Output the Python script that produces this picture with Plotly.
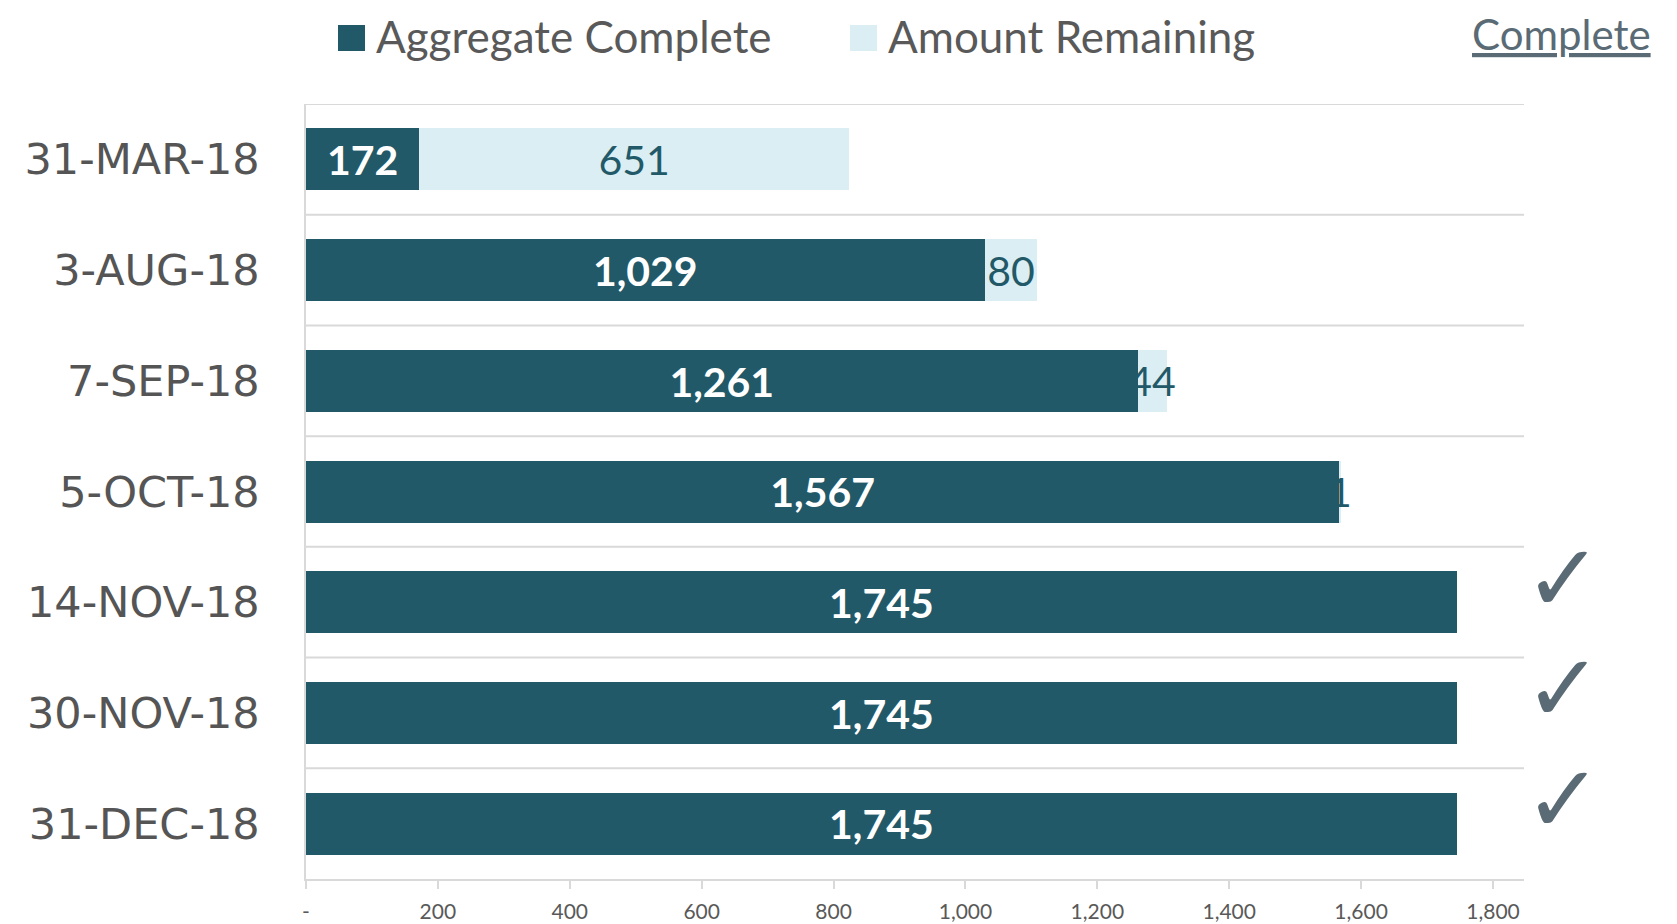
import plotly.graph_objects as go

dates = ["31-MAR-18", "3-AUG-18", "7-SEP-18", "5-OCT-18", "14-NOV-18", "30-NOV-18", "31-DEC-18"]
aggregate_complete = [172, 1029, 1261, 1567, 1745, 1745, 1745]
amount_remaining = [651, 80, 44, 1, 0, 0, 0]
x_ticks = [0, 200, 400, 600, 800, 1000, 1200, 1400, 1600, 1800]
x_tick_labels = ["-", "200", "400", "600", "800", "1,000", "1,200", "1,400", "1,600", "1,800"]

DARK = "#225968"
LIGHT = "#DAEEF3"
FONT = "Lato"

# page is offset by the default 8px body margin
OFF = 8
W, H = 1669, 916
L, T = 306 - OFF, 104 - OFF
R = W - (1524 - OFF)
B = H - (879 - OFF)
PW, PH = W - L - R, H - T - B


def px_x(px):
    return (px - OFF - L) / PW


def px_y(py):
    return (H - B - (py - OFF)) / PH


fig = go.Figure()
fig.add_trace(go.Bar(
    y=dates, x=aggregate_complete, orientation="h", name="Aggregate Complete",
    marker=dict(color=DARK, line=dict(width=0)),
    text=[f"{v:,}" if v else "" for v in aggregate_complete],
    textposition="inside", insidetextanchor="middle",
    textfont=dict(family=FONT, size=43, color="white", weight="bold"),
    width=0.56, showlegend=False,
))
fig.add_trace(go.Bar(
    y=dates, x=amount_remaining, orientation="h", name="Amount Remaining",
    marker=dict(color=LIGHT, line=dict(width=0)),
    text=[f"{v:,}" if v else "" for v in amount_remaining],
    textposition="inside", insidetextanchor="middle",
    textfont=dict(family=FONT, size=41, color=DARK),
    width=0.56, showlegend=False, cliponaxis=False,
))

shapes = []
for i in range(len(dates)):
    shapes.append(dict(type="line", xref="paper", x0=0, x1=1, yref="y",
                       y0=i - 0.5, y1=i - 0.5, line=dict(color="#D9D9D9", width=2), layer="below"))

# custom legend
shapes.append(dict(type="rect", xref="paper", yref="paper",
                   x0=px_x(338), x1=px_x(365), y0=px_y(51), y1=px_y(25),
                   fillcolor=DARK, line=dict(width=0)))
shapes.append(dict(type="rect", xref="paper", yref="paper",
                   x0=px_x(850), x1=px_x(877), y0=px_y(51), y1=px_y(25),
                   fillcolor=LIGHT, line=dict(width=0)))

annotations = [
    dict(text="Aggregate Complete", xref="paper", yref="paper", x=px_x(374), y=px_y(36),
         xanchor="left", yanchor="middle", showarrow=False,
         font=dict(family=FONT, size=44, color="#595959")),
    dict(text="Amount Remaining", xref="paper", yref="paper", x=px_x(886), y=px_y(36),
         xanchor="left", yanchor="middle", showarrow=False,
         font=dict(family=FONT, size=44, color="#595959")),
    dict(text="<u>Complete</u>", xref="paper", yref="paper", x=px_x(1561), y=px_y(34),
         xanchor="center", yanchor="middle", showarrow=False,
         font=dict(family=FONT, size=42, color="#5A6B75")),
]
for d, rem in zip(dates, amount_remaining):
    if rem == 0:
        annotations.append(dict(text="✓", xref="paper", yref="y", x=px_x(1563), y=d,
                                yshift=24, xanchor="center", yanchor="middle", showarrow=False,
                                font=dict(family="DejaVu Sans", size=94, color="#5A6B75")))

fig.update_layout(
    barmode="stack",
    width=W, height=H,
    margin=dict(l=L, r=R, t=T, b=B, autoexpand=False),
    paper_bgcolor="white", plot_bgcolor="white",
    shapes=shapes, annotations=annotations,
    uniformtext=dict(minsize=41, mode="show"),
    xaxis=dict(range=[0, 1847], tickvals=x_ticks, ticktext=x_tick_labels,
               showgrid=False, zeroline=False, showline=True, linecolor="#D9D9D9", linewidth=2,
               ticks="outside", ticklen=8, tickcolor="#D9D9D9", tickwidth=1.5,
               ticklabelstandoff=5,
               tickfont=dict(family=FONT, size=21, color="#595959")),
    yaxis=dict(categoryorder="array", categoryarray=dates, range=[6.5, -0.5],
               showgrid=False, zeroline=False, showline=True, linecolor="#D9D9D9", linewidth=1.5,
               ticks="", ticklabelstandoff=36,
               tickfont=dict(family="DejaVu Sans", size=43, color="#555555")),
)

fig.write_html("out.html")
